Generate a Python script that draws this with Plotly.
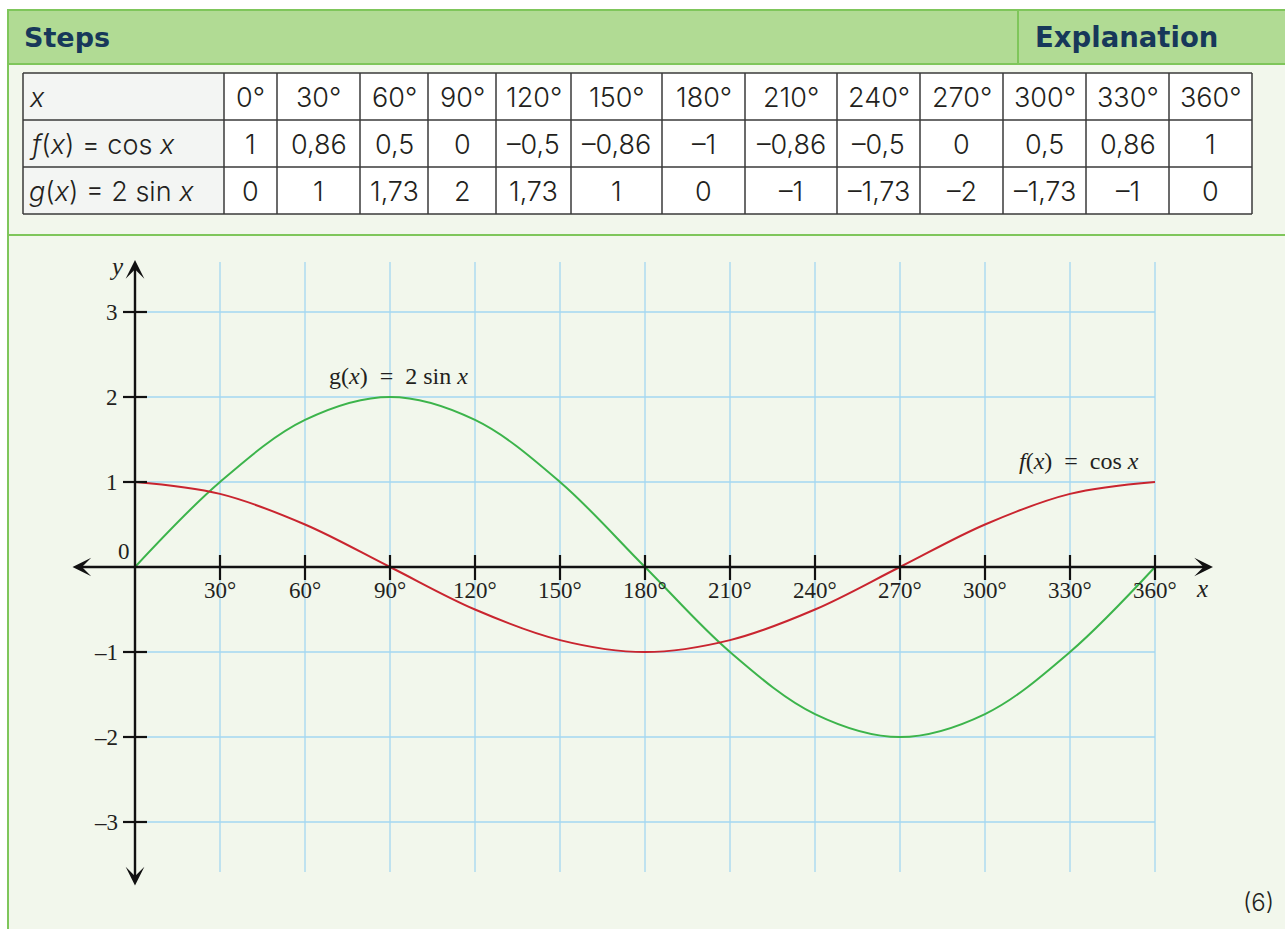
import plotly.graph_objects as go

# ---------------- data ----------------
angles = [0, 30, 60, 90, 120, 150, 180, 210, 240, 270, 300, 330, 360]
f_vals = [1, 0.86, 0.5, 0, -0.5, -0.86, -1, -0.86, -0.5, 0, 0.5, 0.86, 1]
g_vals = [0, 1, 1.73, 2, 1.73, 1, 0, -1, -1.73, -2, -1.73, -1, 0]
row_labels = ["<i>x</i>", "<i>f</i>(<i>x</i>) = cos <i>x</i>", "<i>g</i>(<i>x</i>) = 2 sin <i>x</i>"]
x_ticks = [30, 60, 90, 120, 150, 180, 210, 240, 270, 300, 330, 360]
y_ticks = [-3, -2, -1, 1, 2, 3]
header_left = "Steps"
header_right = "Explanation"
mark_text = "(6)"
g_label = "g(<i>x</i>)\u2002=\u20022 sin <i>x</i>"
f_label = "<i>f</i>(<i>x</i>)\u2002=\u2002cos <i>x</i>"

# ---------------- layout constants ----------------
W, H = 1285, 929
X0_PX, Y0_PX, UNIT_PX = 135, 567, 85.0  # origin and pixels per unit (30 deg)
XS = 30 / UNIT_PX


def px(x):
    return x / W


def py(y):
    return 1 - y / H


def dx(p):  # pixel -> data x
    return (p - X0_PX) * XS


def dy(p):  # pixel -> data y
    return (Y0_PX - p) / UNIT_PX


SANS = "Inter, Lato, Arial, sans-serif"
HEAD = "DejaVu Sans, Arial, sans-serif"
SERIF = "Liberation Serif, Times New Roman, serif"
INK = "#231f20"
NAVY = "#17385a"
GREEN_BORDER = "#7fc65b"
HEADER_FILL = "#b1db94"
BODY_FILL = "#f2f7ec"
GRID = "#a3d7f2"
RED = "#c9252f"
GREEN = "#3cb44b"
TS = 27  # table font size
CS = 23  # chart font size


def fmt(v):
    s = f"{abs(v):g}".replace(".", ",")
    return ("–" + s) if v < 0 else s


fig = go.Figure()

fig.add_trace(go.Scatter(x=angles, y=g_vals, mode="lines", line=dict(color=GREEN, width=2, shape="spline"),
                         hoverinfo="skip", showlegend=False))
fig.add_trace(go.Scatter(x=angles, y=f_vals, mode="lines", line=dict(color=RED, width=2, shape="spline"),
                         hoverinfo="skip", showlegend=False))

shapes = []
ann = []

# backgrounds
shapes.append(dict(type="rect", xref="paper", yref="paper", x0=px(8), x1=px(W + 10), y0=py(H + 10), y1=py(64),
                   fillcolor=BODY_FILL, line=dict(width=0), layer="below"))
shapes.append(dict(type="line", xref="paper", yref="paper", x0=px(8), x1=px(8), y0=py(64), y1=py(H + 10),
                   line=dict(color=GREEN_BORDER, width=2), layer="below"))
shapes.append(dict(type="line", xref="paper", yref="paper", x0=px(8), x1=px(W + 10), y0=py(235), y1=py(235),
                   line=dict(color=GREEN_BORDER, width=2), layer="below"))
shapes.append(dict(type="rect", xref="paper", yref="paper", x0=px(8), x1=px(W + 10), y0=py(64), y1=py(10),
                   fillcolor=HEADER_FILL, line=dict(color=GREEN_BORDER, width=2), layer="below"))
shapes.append(dict(type="line", xref="paper", yref="paper", x0=px(1018), x1=px(1018), y0=py(64), y1=py(10),
                   line=dict(color=GREEN_BORDER, width=2), layer="below"))
ann.append(dict(xref="paper", yref="paper", x=px(22), y=py(37), text=f"<b>{header_left}</b>", showarrow=False,
                xanchor="left", yanchor="middle", font=dict(family=HEAD, size=27, color=NAVY)))
ann.append(dict(xref="paper", yref="paper", x=px(1033), y=py(37), text=f"<b>{header_right}</b>", showarrow=False,
                xanchor="left", yanchor="middle", font=dict(family=HEAD, size=27.5, color=NAVY)))

# table
col_b = [23, 224, 277, 360, 428, 496, 571, 662, 745, 837, 920, 1003, 1086, 1169, 1252]
row_b = [73, 120, 167, 214]
shapes.append(dict(type="rect", xref="paper", yref="paper", x0=px(col_b[0]), x1=px(col_b[-1]),
                   y0=py(row_b[-1]), y1=py(row_b[0]), fillcolor="white", line=dict(width=0), layer="below"))
shapes.append(dict(type="rect", xref="paper", yref="paper", x0=px(col_b[0]), x1=px(col_b[1]),
                   y0=py(row_b[-1]), y1=py(row_b[0]), fillcolor="#f3f5f3", line=dict(width=0), layer="below"))
for xb in col_b:
    shapes.append(dict(type="line", xref="paper", yref="paper", x0=px(xb), x1=px(xb), y0=py(row_b[-1]),
                       y1=py(row_b[0]), line=dict(color="#3a3a3a", width=1.5), layer="below"))
for yb in row_b:
    shapes.append(dict(type="line", xref="paper", yref="paper", x0=px(col_b[0]), x1=px(col_b[-1]), y0=py(yb),
                       y1=py(yb), line=dict(color="#3a3a3a", width=1.5), layer="below"))
rows = [[f"{a}°" for a in angles], [fmt(v) for v in f_vals], [fmt(v) for v in g_vals]]
for r in range(3):
    yc = (row_b[r] + row_b[r + 1]) / 2
    ann.append(dict(xref="paper", yref="paper", x=px(col_b[0] + 4), y=py(yc + 1), text=row_labels[r],
                    showarrow=False, xanchor="left", yanchor="middle",
                    font=dict(family=SANS, size=TS, color=INK, weight=300)))
    for c, t in enumerate(rows[r]):
        xc = (col_b[c + 1] + col_b[c + 2]) / 2
        ann.append(dict(xref="paper", yref="paper", x=px(xc), y=py(yc + 1), text=t, showarrow=False,
                        xanchor="center", yanchor="middle",
                        font=dict(family=SANS, size=TS, color=INK, weight=300)))

# grid
ytop, ybot = dy(262), dy(872)
for a in x_ticks:
    shapes.append(dict(type="line", xref="x", yref="y", x0=a, x1=a, y0=ybot, y1=ytop,
                       line=dict(color=GRID, width=1.3), layer="below"))
for v in y_ticks:
    shapes.append(dict(type="line", xref="x", yref="y", x0=0, x1=angles[-1], y0=v, y1=v,
                       line=dict(color=GRID, width=1.3), layer="below"))

# ticks
for a in x_ticks:
    shapes.append(dict(type="line", xref="x", yref="y", x0=a, x1=a, y0=dy(580), y1=dy(555),
                       line=dict(color="#111", width=2.2)))
    ann.append(dict(xref="x", yref="y", x=a, y=dy(590), text=f"{a}°", showarrow=False,
                    xanchor="center", yanchor="middle", font=dict(family=SERIF, size=CS, color=INK)))
for v in y_ticks:
    shapes.append(dict(type="line", xref="x", yref="y", x0=dx(123), x1=dx(147), y0=v, y1=v,
                       line=dict(color="#111", width=2.2)))
    ann.append(dict(xref="x", yref="y", x=dx(120), y=v, text=fmt(v), showarrow=False,
                    xanchor="right", yanchor="middle", font=dict(family=SERIF, size=CS, color=INK)))
ann.append(dict(xref="x", yref="y", x=dx(132), y=dy(551), text="0", showarrow=False,
                xanchor="right", yanchor="middle", font=dict(family=SERIF, size=CS, color=INK)))

# axes with arrows
ann.append(dict(xref="x", yref="y", axref="x", ayref="y", x=dx(1213), y=0, ax=dx(71), ay=0, text="",
                showarrow=True, arrowhead=3, startarrowhead=3, arrowside="end+start", arrowwidth=2.4,
                arrowsize=1.3, startarrowsize=1.3, arrowcolor="#111", standoff=0, startstandoff=0))
ann.append(dict(xref="x", yref="y", axref="x", ayref="y", x=0, y=dy(260), ax=0, ay=dy(887), text="",
                showarrow=True, arrowhead=3, startarrowhead=3, arrowside="end+start", arrowwidth=2.4,
                arrowsize=1.3, startarrowsize=1.3, arrowcolor="#111", standoff=0, startstandoff=0))
ann.append(dict(xref="x", yref="y", x=dx(116), y=dy(266), text="<i>y</i>", showarrow=False,
                xanchor="center", yanchor="middle", font=dict(family=SERIF, size=25, color=INK)))
ann.append(dict(xref="x", yref="y", x=dx(1202), y=dy(588), text="<i>x</i>", showarrow=False,
                xanchor="center", yanchor="middle", font=dict(family=SERIF, size=25, color=INK)))

# curve labels
ann.append(dict(xref="x", yref="y", x=dx(398), y=dy(376), text=g_label, showarrow=False,
                xanchor="center", yanchor="middle", font=dict(family=SERIF, size=24, color=INK)))
ann.append(dict(xref="x", yref="y", x=dx(1079), y=dy(461), text=f_label,
                showarrow=False, xanchor="center", yanchor="middle", font=dict(family=SERIF, size=24, color=INK)))

ann.append(dict(xref="paper", yref="paper", x=px(1276), y=py(902), text=mark_text, showarrow=False,
                xanchor="right", yanchor="middle", font=dict(family=SANS, size=TS - 3, color=INK, weight=300)))

fig.update_layout(
    width=W, height=H, autosize=False,
    margin=dict(l=0, r=0, t=0, b=0, pad=0),
    paper_bgcolor="white", plot_bgcolor="rgba(0,0,0,0)",
    xaxis=dict(range=[dx(0), dx(W)], visible=False, fixedrange=True),
    yaxis=dict(range=[dy(H), dy(0)], visible=False, fixedrange=True),
    shapes=shapes, annotations=ann, showlegend=False,
)

fig.write_html("out.html", config={"displayModeBar": False, "staticPlot": True},
               post_script="document.body.style.margin='0';document.body.style.overflow='hidden';")
